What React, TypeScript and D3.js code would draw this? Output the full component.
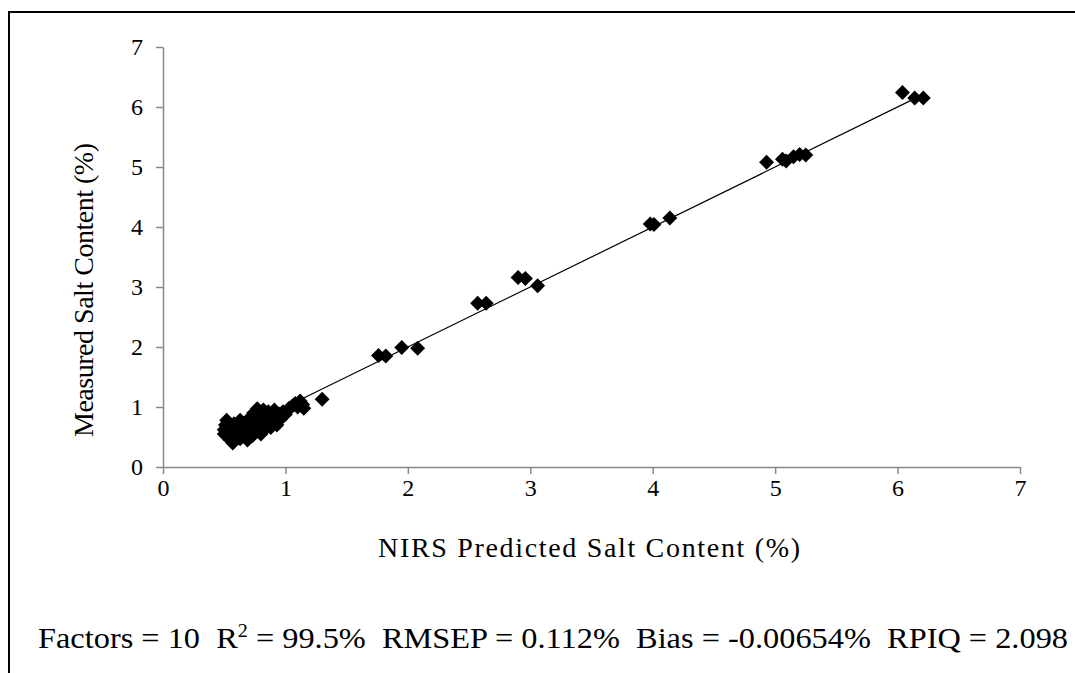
import { useEffect, useRef } from 'react';
import * as d3 from 'd3';

// NIRS predicted (x) vs measured (y) salt content, %
const predicted = [
  0.50, 0.50, 0.51, 0.52, 0.53, 0.54, 0.55, 0.56, 0.57, 0.57, 0.58, 0.59, 0.60, 0.61, 0.62, 0.63,
  0.63, 0.65, 0.66, 0.67, 0.68, 0.69, 0.70, 0.71, 0.72, 0.73, 0.74, 0.75, 0.76, 0.77, 0.78, 0.79,
  0.80, 0.80, 0.81, 0.82, 0.83, 0.84, 0.85, 0.86, 0.87, 0.88, 0.89, 0.90, 0.91, 0.92, 0.93, 0.95,
  0.96, 0.98, 1.00, 1.03, 1.06, 1.08, 1.10, 1.12, 1.14, 1.15, 1.30,
  1.76, 1.82, 1.95, 2.08, 2.57, 2.64, 2.90, 2.96, 3.06, 3.98, 4.01, 4.14,
  4.93, 5.06, 5.09, 5.15, 5.20, 5.25, 6.04, 6.14, 6.21,
];
const measured = [
  0.55, 0.62, 0.70, 0.78, 0.58, 0.66, 0.45, 0.52, 0.40, 0.60, 0.72, 0.48, 0.64, 0.55, 0.70, 0.78,
  0.47, 0.60, 0.52, 0.68, 0.75, 0.45, 0.58, 0.82, 0.65, 0.52, 0.90, 0.72, 0.60, 0.97, 0.80, 0.68,
  0.88, 0.55, 0.75, 0.95, 0.63, 0.85, 0.70, 0.92, 0.78, 0.66, 0.88, 0.74, 0.95, 0.82, 0.70, 0.88,
  0.80, 0.92, 0.88, 0.98, 1.02, 1.06, 1.00, 1.10, 1.04, 0.98, 1.13,
  1.86, 1.85, 1.99, 1.98, 2.73, 2.73, 3.16, 3.14, 3.02, 4.05, 4.04, 4.15,
  5.08, 5.13, 5.10, 5.17, 5.21, 5.20, 6.24, 6.15, 6.15,
];
const xTicks = [0, 1, 2, 3, 4, 5, 6, 7];
const yTicks = [0, 1, 2, 3, 4, 5, 6, 7];
// fitted line y = slope * x + intercept
const fitSlope = 1.0;
const fitIntercept = 0.0;

const W = 1075;
const H = 673;

export default function App() {
  const svgRef = useRef<SVGSVGElement>(null);

  useEffect(() => {
    if (!svgRef.current) return;
    const svg = d3.select(svgRef.current);
    svg.selectAll('*').remove();

    const x = d3.scaleLinear().domain([0, 7]).range([163, 1020]);
    const y = d3.scaleLinear().domain([0, 7]).range([467, 47]);
    const axisColor = '#898989';
    const font = '"Liberation Serif", "Times New Roman", serif';

    // outer frame
    svg.append('rect')
      .attr('x', 9).attr('y', 12)
      .attr('width', W + 20).attr('height', H + 20)
      .attr('fill', 'white')
      .attr('stroke', '#000')
      .attr('stroke-width', 2);

    // Axes
    const gx = svg.append('g').attr('transform', `translate(0,${y(0)})`)
      .call(d3.axisBottom(x).tickValues(xTicks).tickFormat(d3.format('d')).tickSize(7).tickSizeOuter(0).tickPadding(5));
    const gy = svg.append('g').attr('transform', `translate(${x(0)},0)`)
      .call(d3.axisLeft(y).tickValues(yTicks).tickFormat(d3.format('d')).tickSize(7).tickSizeOuter(0).tickPadding(13));

    [gx, gy].forEach((g) => {
      g.select('.domain').attr('stroke', axisColor).attr('stroke-width', 1.5);
      g.selectAll('.tick line').attr('stroke', axisColor).attr('stroke-width', 1.5);
      g.selectAll('.tick text')
        .attr('fill', '#000')
        .attr('font-family', font)
        .attr('font-size', '24px');
    });

    // Trend line
    const xs = d3.extent(predicted) as [number, number];
    svg.append('line')
      .attr('x1', x(xs[0])).attr('y1', y(fitSlope * xs[0] + fitIntercept))
      .attr('x2', x(xs[1])).attr('y2', y(fitSlope * xs[1] + fitIntercept))
      .attr('stroke', '#000')
      .attr('stroke-width', 1.2);

    // Points (diamonds)
    const diamond = d3.symbol().type(d3.symbolSquare).size(112);
    svg.append('g')
      .selectAll('path')
      .data(predicted.map((p, i) => [p, measured[i]]))
      .join('path')
      .attr('d', diamond)
      .attr('transform', (d) => `translate(${x(d[0])},${y(d[1])}) rotate(45)`)
      .attr('fill', '#000');

    // Axis titles
    svg.append('text')
      .attr('x', 589).attr('y', 557)
      .attr('text-anchor', 'middle')
      .attr('font-family', font)
      .attr('font-size', '28px')
      .attr('textLength', 422)
      .attr('lengthAdjust', 'spacing')
      .text('NIRS Predicted Salt Content (%)');

    svg.append('text')
      .attr('transform', `translate(93,${(y(0) + y(7)) / 2 + 33}) rotate(-90)`)
      .attr('text-anchor', 'middle')
      .attr('font-family', font)
      .attr('font-size', '28px')
      .attr('textLength', 294)
      .attr('lengthAdjust', 'spacing')
      .text('Measured Salt Content (%)');

    // Statistics footer
    const foot = svg.append('text')
      .attr('x', 38).attr('y', 648)
      .attr('font-family', font)
      .attr('font-size', '29px')
      .style('white-space', 'pre')
      .attr('textLength', 1030)
      .attr('lengthAdjust', 'spacingAndGlyphs');
    foot.append('tspan').text('Factors = 10  R');
    foot.append('tspan').attr('dy', -11).attr('font-size', '18px').text('2');
    foot.append('tspan').attr('dy', 11).text(' = 99.5%  RMSEP = 0.112%  Bias = -0.00654%  RPIQ = 2.098');
  }, []);

  return (
    <svg
      ref={svgRef}
      width={W}
      height={H}
      style={{ position: 'absolute', left: 0, top: 0, display: 'block', background: 'white' }}
    />
  );
}
